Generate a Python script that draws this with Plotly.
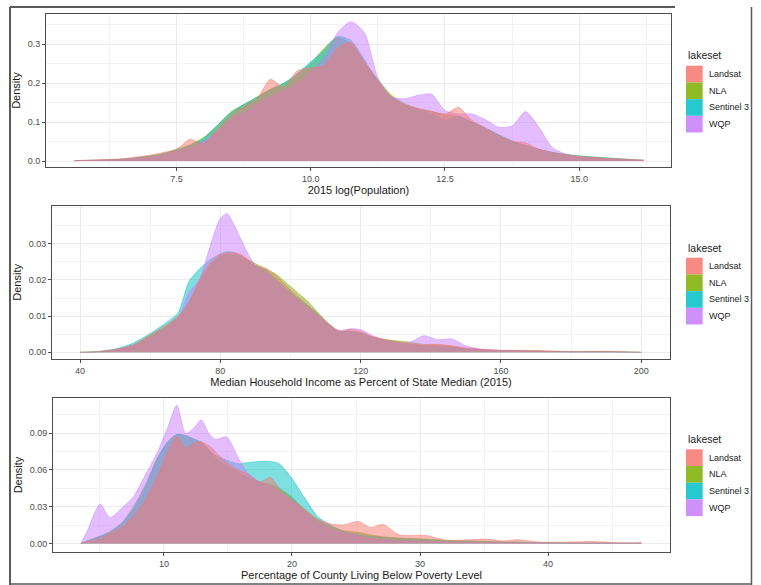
import plotly.graph_objects as go

W, H = 761, 585

SERIES = ["Landsat", "NLA", "Sentinel 3", "WQP"]
DRAW_ORDER = ["NLA", "Sentinel 3", "WQP", "Landsat"]
COLORS = {"Landsat": "#F8766D", "NLA": "#7CAE00", "Sentinel 3": "#00BFC4", "WQP": "#C77CFF"}

# ---------------- Panel 1: 2015 log(Population) ----------------
P1_X = [5.6, 6.0, 6.5, 7.0, 7.25, 7.5, 7.75, 8.0, 8.25, 8.5, 8.75, 9.0, 9.25, 9.5, 9.75,
        10.0, 10.25, 10.5, 10.75, 11.0, 11.25, 11.5, 11.75, 12.0, 12.25, 12.5, 12.75, 13.0,
        13.25, 13.5, 13.75, 14.0, 14.25, 14.5, 14.75, 15.0, 15.5, 16.2]
P1_LANDSAT = [0.001, 0.003, 0.006, 0.015, 0.022, 0.03, 0.056, 0.045, 0.08, 0.115, 0.14, 0.16,
              0.21, 0.19, 0.232, 0.24, 0.245, 0.29, 0.305, 0.255, 0.205, 0.165, 0.145, 0.135,
              0.128, 0.12, 0.138, 0.105, 0.085, 0.065, 0.05, 0.047, 0.03, 0.022, 0.016, 0.012,
              0.007, 0.002]
P1_NLA = [0.001, 0.002, 0.005, 0.013, 0.019, 0.03, 0.042, 0.06, 0.09, 0.125, 0.145, 0.165,
          0.185, 0.2, 0.222, 0.25, 0.29, 0.318, 0.3, 0.255, 0.21, 0.17, 0.148, 0.135,
          0.127, 0.12, 0.115, 0.1, 0.085, 0.068, 0.052, 0.04, 0.03, 0.022, 0.017, 0.013,
          0.008, 0.002]
P1_SENTINEL = [0.001, 0.002, 0.005, 0.012, 0.018, 0.028, 0.04, 0.058, 0.09, 0.122, 0.145, 0.163,
               0.183, 0.2, 0.225, 0.255, 0.285, 0.32, 0.31, 0.26, 0.205, 0.165, 0.145, 0.132,
               0.122, 0.105, 0.115, 0.1, 0.085, 0.067, 0.05, 0.04, 0.03, 0.022, 0.017, 0.013,
               0.008, 0.002]
P1_WQP = [0.001, 0.002, 0.004, 0.01, 0.015, 0.025, 0.035, 0.05, 0.075, 0.105, 0.125, 0.145,
          0.165, 0.18, 0.2, 0.23, 0.265, 0.33, 0.358, 0.33, 0.215, 0.165, 0.16, 0.169,
          0.172, 0.13, 0.121, 0.121, 0.107, 0.087, 0.09, 0.127, 0.087, 0.035, 0.018, 0.01,
          0.006, 0.002]
P1_XTICKS = [7.5, 10.0, 12.5, 15.0]
P1_XTICKTEXT = ["7.5", "10.0", "12.5", "15.0"]
P1_YTICKS = [0.0, 0.1, 0.2, 0.3]
P1_YTICKTEXT = ["0.0", "0.1", "0.2", "0.3"]

# ---------------- Panel 2: Median household income ----------------
P2_X = [40, 45, 50, 55, 60, 65, 68, 71, 74, 77, 80, 82, 84, 86, 88, 90, 93, 96, 99, 102,
        105, 108, 111, 114, 117, 120, 123, 126, 130, 134, 138, 142, 146, 150, 155, 160,
        170, 180, 190, 200]
P2_LANDSAT = [0.0, 0.0002, 0.0008, 0.002, 0.0048, 0.0078, 0.01, 0.0135, 0.02, 0.0245,
              0.027, 0.0275, 0.0275, 0.027, 0.0255, 0.024, 0.0232, 0.021, 0.0182, 0.0155,
              0.013, 0.0105, 0.0078, 0.0058, 0.0063, 0.0058, 0.0045, 0.0038, 0.003, 0.0024,
              0.002, 0.0022, 0.0018, 0.0012, 0.0008, 0.0006, 0.0005, 0.0002, 0.0003, 0.0]
P2_NLA = [0.0, 0.0002, 0.0007, 0.0019, 0.0045, 0.0075, 0.0098, 0.014, 0.019, 0.024,
          0.0265, 0.027, 0.027, 0.0265, 0.0255, 0.0245, 0.023, 0.0215, 0.019, 0.0165,
          0.014, 0.0108, 0.0078, 0.0058, 0.0058, 0.0052, 0.0042, 0.0036, 0.0032, 0.0028,
          0.0022, 0.002, 0.0016, 0.001, 0.0007, 0.0005, 0.0004, 0.0002, 0.0002, 0.0]
P2_SENTINEL = [0.0, 0.0002, 0.0009, 0.0025, 0.0052, 0.0085, 0.011, 0.0195, 0.023, 0.0255,
               0.0272, 0.0278, 0.0275, 0.0265, 0.025, 0.024, 0.0225, 0.02, 0.0175, 0.015,
               0.0128, 0.0103, 0.0075, 0.0056, 0.0058, 0.0054, 0.0043, 0.0035, 0.0028, 0.0022,
               0.0018, 0.0016, 0.0014, 0.001, 0.0007, 0.0005, 0.0003, 0.0002, 0.0002, 0.0]
P2_WQP = [0.0, 0.0001, 0.0006, 0.0018, 0.004, 0.007, 0.0095, 0.0165, 0.02, 0.029,
          0.037, 0.0383, 0.035, 0.031, 0.027, 0.024, 0.022, 0.0195, 0.017, 0.0145,
          0.012, 0.0098, 0.0075, 0.006, 0.0065, 0.0063, 0.0048, 0.0036, 0.0025, 0.0028,
          0.0046, 0.0035, 0.0037, 0.0018, 0.0008, 0.0005, 0.0003, 0.0001, 0.0001, 0.0]
P2_XTICKS = [40, 80, 120, 160, 200]
P2_XTICKTEXT = ["40", "80", "120", "160", "200"]
P2_YTICKS = [0.0, 0.01, 0.02, 0.03]
P2_YTICKTEXT = ["0.00", "0.01", "0.02", "0.03"]

# ---------------- Panel 3: Poverty ----------------
P3_X = [3.5, 4.0, 5.0, 5.8, 6.7, 7.6, 8.5, 9.5, 10.3, 11.0, 11.7, 12.4, 12.9, 13.5, 14.0,
        14.9, 15.8, 16.5, 17.5, 18.3, 19.0, 20.0, 21.0, 22.0, 23.0, 24.0, 25.2, 26.1, 27.1,
        28.4, 30.5, 32.1, 34.0, 35.2, 36.5, 37.6, 39.5, 42.0, 43.5, 45.0, 46.2, 47.3]
P3_LANDSAT = [0.0, 0.0015, 0.004, 0.008, 0.013, 0.022, 0.035, 0.055, 0.075, 0.087,
              0.078, 0.082, 0.083, 0.08, 0.075, 0.066, 0.06, 0.057, 0.05, 0.054,
              0.045, 0.036, 0.028, 0.02, 0.016, 0.015, 0.018, 0.013, 0.0155, 0.007,
              0.0065, 0.0025, 0.003, 0.0035, 0.002, 0.003, 0.001, 0.0012, 0.0015, 0.0008,
              0.0005, 0.001]
P3_NLA = [0.0, 0.002, 0.006, 0.01, 0.017, 0.03, 0.047, 0.07, 0.083, 0.089,
          0.088, 0.085, 0.082, 0.076, 0.07, 0.063, 0.058, 0.054, 0.05, 0.048,
          0.045, 0.038, 0.027, 0.019, 0.014, 0.0105, 0.009, 0.007, 0.0055, 0.0045,
          0.0035, 0.0025, 0.002, 0.0017, 0.0012, 0.001, 0.0006, 0.0004, 0.0003, 0.0002,
          0.0001, 0.0]
P3_SENTINEL = [0.0, 0.002, 0.0057, 0.009, 0.016, 0.028, 0.045, 0.07, 0.083, 0.089,
               0.088, 0.085, 0.083, 0.077, 0.072, 0.068, 0.065, 0.066, 0.067, 0.067,
               0.065, 0.053, 0.037, 0.022, 0.015, 0.01, 0.0075, 0.006, 0.005, 0.004,
               0.003, 0.002, 0.0018, 0.0015, 0.001, 0.001, 0.0006, 0.0004, 0.0003, 0.0002,
               0.0001, 0.0]
P3_WQP = [0.0, 0.01, 0.032, 0.021, 0.029, 0.038, 0.055, 0.075, 0.095, 0.113,
          0.09, 0.095, 0.101, 0.09, 0.085, 0.087, 0.07, 0.058, 0.05, 0.047,
          0.042, 0.035, 0.026, 0.018, 0.012, 0.009, 0.006, 0.004, 0.003, 0.002,
          0.0015, 0.001, 0.0008, 0.0006, 0.0004, 0.0003, 0.0002, 0.0001, 0.0001, 0.0,
          0.0, 0.0]
P3_XTICKS = [10, 20, 30, 40]
P3_XTICKTEXT = ["10", "20", "30", "40"]
P3_YTICKS = [0.0, 0.03, 0.06, 0.09]
P3_YTICKTEXT = ["0.00", "0.03", "0.06", "0.09"]

X_TITLES = ["2015 log(Population)",
            "Median Household Income as Percent of State Median (2015)",
            "Percentage of County Living Below Poverty Level"]
Y_TITLE = "Density"
LEGEND_TITLE = "lakeset"

PANELS = [
    dict(x=P1_X, ys={"Landsat": P1_LANDSAT, "NLA": P1_NLA, "Sentinel 3": P1_SENTINEL, "WQP": P1_WQP},
         xt=P1_XTICKS, xtt=P1_XTICKTEXT, yt=P1_YTICKS, ytt=P1_YTICKTEXT),
    dict(x=P2_X, ys={"Landsat": P2_LANDSAT, "NLA": P2_NLA, "Sentinel 3": P2_SENTINEL, "WQP": P2_WQP},
         xt=P2_XTICKS, xtt=P2_XTICKTEXT, yt=P2_YTICKS, ytt=P2_YTICKTEXT),
    dict(x=P3_X, ys={"Landsat": P3_LANDSAT, "NLA": P3_NLA, "Sentinel 3": P3_SENTINEL, "WQP": P3_WQP},
         xt=P3_XTICKS, xtt=P3_XTICKTEXT, yt=P3_YTICKS, ytt=P3_YTICKTEXT),
]

# layout geometry (pixels)
GEOM = [
    dict(l=46, r=671, t=14, b=167, xr=[5.07, 16.71], yr=[-0.0154, 0.378], xminor=1.25, yminor=0.05,
         leg_title=55, leg_top=65.7),
    dict(l=52, r=670, t=205.7, b=359, xr=[32.0, 208.2], yr=[-0.00185, 0.0405], xminor=20, yminor=0.005,
         leg_title=248.3, leg_top=257.7),
    dict(l=53, r=670, t=398.3, b=551.7, xr=[1.33, 49.53], yr=[-0.0068, 0.1186], xminor=5, yminor=0.015,
         leg_title=439.3, leg_top=449.3),
]


def rgba(hx, a):
    hx = hx.lstrip("#")
    r, g, b = int(hx[0:2], 16), int(hx[2:4], 16), int(hx[4:6], 16)
    return f"rgba({r},{g},{b},{a})"


def px(x):
    return x / W


def py(y):
    return 1 - y / H


FONT = "Liberation Sans, Arial, sans-serif"
fig = go.Figure()

for i, (p, g) in enumerate(zip(PANELS, GEOM)):
    sfx = "" if i == 0 else str(i + 1)
    for s in DRAW_ORDER:
        fig.add_trace(go.Scatter(
            x=p["x"], y=p["ys"][s], name=s, mode="lines", fill="tozeroy",
            fillcolor=rgba(COLORS[s], 0.5),
            line=dict(color=rgba(COLORS[s], 0.55), width=0.8, shape="spline", smoothing=0.7),
            xaxis="x" + sfx, yaxis="y" + sfx, showlegend=False, hoverinfo="x+y+name"))
    common = dict(showgrid=True, gridcolor="#EBEBEB", gridwidth=1, showline=True,
                  linecolor="#4D4D4D", linewidth=1, mirror=True, ticks="outside", ticklen=3,
                  tickcolor="#4D4D4D", tickfont=dict(size=9, color="#4D4D4D", family=FONT),
                  zeroline=False, automargin=False)
    xa = dict(common, domain=[px(g["l"]), px(g["r"])], range=g["xr"], tickmode="array",
              tickvals=p["xt"], ticktext=p["xtt"], anchor="y" + sfx,
              minor=dict(dtick=g["xminor"], tick0=0, showgrid=True, gridcolor="#F3F3F3", gridwidth=0.7),
              title=dict(text=X_TITLES[i], font=dict(size=11, color="#1A1A1A", family=FONT), standoff=3))
    ya = dict(common, domain=[py(g["b"]), py(g["t"])], range=g["yr"], tickmode="array",
              tickvals=p["yt"], ticktext=p["ytt"], anchor="x" + sfx,
              minor=dict(dtick=g["yminor"], tick0=0, showgrid=True, gridcolor="#F3F3F3", gridwidth=0.7),
              title=dict(text=Y_TITLE, font=dict(size=11, color="#1A1A1A", family=FONT), standoff=4))
    fig.layout["xaxis" + sfx] = xa
    fig.layout["yaxis" + sfx] = ya

shapes = []
annotations = []
KEY = 16.7
for i, g in enumerate(GEOM):
    annotations.append(dict(x=px(686), y=py(g["leg_title"]), xref="paper", yref="paper",
                            text=LEGEND_TITLE, showarrow=False, xanchor="left", yanchor="middle",
                            font=dict(size=10.5, color="#1A1A1A", family=FONT)))
    for j, s in enumerate(SERIES):
        y0 = g["leg_top"] + j * KEY
        shapes.append(dict(type="rect", xref="paper", yref="paper",
                           x0=px(686), x1=px(702.7), y0=py(y0 + KEY), y1=py(y0),
                           fillcolor=rgba(COLORS[s], 0.85), line=dict(width=0), layer="above"))
        annotations.append(dict(x=px(707), y=py(y0 + KEY / 2), xref="paper", yref="paper",
                                text=s, showarrow=False, xanchor="left", yanchor="middle",
                                font=dict(size=9, color="#1A1A1A", family=FONT)))

# outer frame of the picture
FRAME = "#5A5A5A"
shapes += [
    dict(type="line", xref="paper", yref="paper", x0=px(10), x1=px(10), y0=py(7), y1=py(585),
         line=dict(color=FRAME, width=2)),
    dict(type="line", xref="paper", yref="paper", x0=px(10), x1=px(675), y0=py(7), y1=py(7),
         line=dict(color=FRAME, width=2)),
    dict(type="line", xref="paper", yref="paper", x0=px(751.5), x1=px(751.5), y0=py(7), y1=py(585),
         line=dict(color=FRAME, width=1.5)),
    dict(type="line", xref="paper", yref="paper", x0=px(10), x1=px(752), y0=py(584), y1=py(584),
         line=dict(color=FRAME, width=1.5)),
]

fig.update_layout(width=W, height=H, margin=dict(l=0, r=0, t=0, b=0),
                  paper_bgcolor="white", plot_bgcolor="white", showlegend=False,
                  shapes=shapes, annotations=annotations,
                  font=dict(family=FONT, size=10, color="#1A1A1A"))

fig.write_html("out.html")
